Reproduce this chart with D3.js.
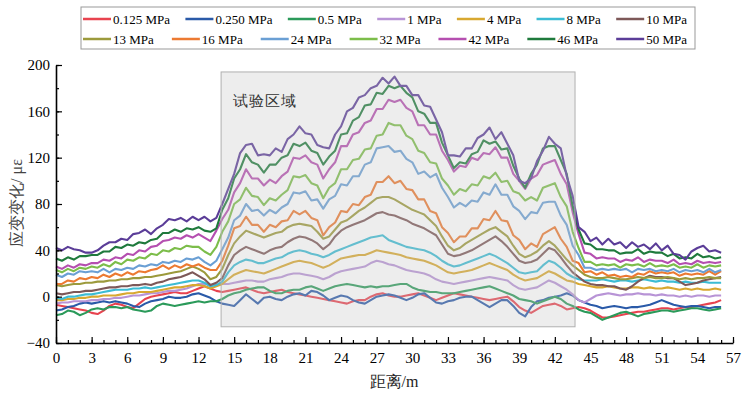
<!DOCTYPE html>
<html>
<head>
<meta charset="utf-8">
<script src="https://cdn.jsdelivr.net/npm/d3@7"></script>
<style>
  body { margin: 0; background: #fff; }
  svg { display: block; }
  text { font-family: "Liberation Serif", "Times New Roman", serif; }
</style>
</head>
<body>
<svg id="chart" width="747" height="395"></svg>
<script>
// Distance along the line (m)
const distance = [
  0,0.5,1,1.5,2,2.5,3,3.5,4,4.5, 5,5.5,6,6.5,7,7.5,8,8.5,9,9.5,
  10,10.5,11,11.5,12,12.5,13,13.5,14,14.5, 15,15.5,16,16.5,17,17.5,18,18.5,19,19.5,
  20,20.5,21,21.5,22,22.5,23,23.5,24,24.5, 25,25.5,26,26.5,27,27.5,28,28.5,29,29.5,
  30,30.5,31,31.5,32,32.5,33,33.5,34,34.5, 35,35.5,36,36.5,37,37.5,38,38.5,39,39.5,
  40,40.5,41,41.5,42,42.5,43,43.5,44,44.5, 45,45.5,46,46.5,47,47.5,48,48.5,49,49.5,
  50,50.5,51,51.5,52,52.5,53,53.5,54,54.5, 55,55.5,56
];

const pressureLabels = ["0.125 MPa", "0.250 MPa", "0.5 MPa", "1 MPa", "4 MPa", "8 MPa", "10 MPa",
                        "13 MPa", "16 MPa", "24 MPa", "32 MPa", "42 MPa", "46 MPa", "50 MPa"];
const lineColors = ["#e8434f", "#2a5aa8", "#2b9a5a", "#b894d6", "#d8a830", "#3cbcd4", "#7d5858",
                    "#9c9a3c", "#ec7a32", "#6a9fd4", "#7cbd4a", "#b54fb0", "#1f7a3c", "#5b3d98"];

// Strain change (με) for each pressure
const strain0125 = [
  -7,-8,-9,-10,-11,-12,-14,-15,-12,-8, -6,-7,-9,-10,-6,-2,0,1,2,3,
  4,3,3,5,7,9,7,5,4,5, 6,7,8,6,4,3,4,5,6,4,
  3,2,1,0,-1,-2,-3,-4,-5,-6, -4,-3,-3,0,2,3,1,0,0,1,
  2,3,1,-1,-3,-1,1,3,2,1, 0,-1,-2,-3,-2,-1,0,-4,-9,-12,
  -14,-11,-8,-7,-6,-8,-11,-10,-9,-10, -12,-15,-18,-18,-17,-16,-15,-14,-13,-13,
  -12,-11,-10,-10,-11,-10,-9,-9,-8,-7, -6,-5,-3
];
const strain0250 = [
  -12,-11,-9,-8,-6,-5,-6,-5,-4,-5, -4,-5,-6,-8,-9,-6,-4,-3,-2,0,
  -1,-1,0,2,3,1,-1,-4,-6,-7, -8,-3,2,-2,-6,-1,0,-2,-3,0,
  2,3,1,5,4,1,-3,-1,1,0, -3,-5,-6,-3,0,1,2,1,-1,-3,
  -1,2,3,-1,-5,-6,-4,-3,-1,0, 0,-3,-6,-9,-6,-3,-3,-8,-14,-17,
  -9,-4,-3,-1,0,1,3,1,-3,-5, -7,-8,-10,-9,-8,-9,-10,-9,-9,-8,
  -7,-5,-3,-5,-7,-8,-9,-8,-8,-9, -10,-9,-9
];
const strain05 = [
  -16,-15,-12,-13,-16,-14,-11,-10,-11,-9, -9,-10,-9,-11,-12,-13,-12,-8,-6,-7,
  -8,-7,-6,-5,-4,-5,-4,-4,-2,1, 3,4,6,7,8,8,5,3,3,5,
  6,6,8,9,7,5,7,9,10,11, 10,9,8,9,8,9,9,10,11,11,
  8,6,5,4,4,3,3,3,4,5, 6,7,8,9,7,5,3,1,-2,-3,
  -4,-6,-4,-2,0,-2,-6,-8,-11,-13, -14,-17,-20,-18,-16,-14,-13,-15,-17,-15,
  -14,-13,-12,-12,-13,-12,-11,-10,-10,-11, -12,-11,-10
];
const strain1 = [
  -6,-5,-5,-4,-4,-4,-3,-3,-2,-2, -1,-1,0,1,1,2,3,3,4,5,
  5,6,7,9,11,11,10,10,11,11, 12,13,14,14,13,13,15,16,17,19,
  20,20,19,18,17,15,17,20,22,23, 24,25,26,29,31,30,28,27,25,23,
  22,21,20,18,15,13,12,11,12,13, 14,15,16,17,16,15,14,10,7,6,
  7,8,11,14,12,9,6,2,-3,-5, -2,1,2,3,2,1,2,2,3,2,
  2,1,2,1,1,0,1,0,1,1, 0,1,1
];
const strain4 = [
  -3,-3,-2,-2,-1,-1,0,0,1,1, 1,2,3,3,4,4,4,5,6,7,
  8,8,9,10,10,9,7,9,11,15, 19,21,23,22,21,20,22,24,26,28,
  30,31,30,29,27,25,27,30,33,34, 35,36,36,38,40,39,38,37,36,34,
  33,32,31,29,27,24,21,20,21,22, 23,25,27,29,27,25,23,19,16,14,
  15,16,19,22,20,17,14,13,11,10, 9,8,8,9,8,7,7,8,8,7,
  8,7,7,8,7,6,7,6,7,6, 6,7,6
];
const strain8 = [
  -1,-2,0,0,1,2,2,3,4,5, 6,6,6,7,7,8,7,8,9,10,
  11,12,13,14,14,12,9,10,13,21, 27,30,32,31,29,29,31,33,34,37,
  39,40,39,37,36,34,36,39,41,43, 45,47,49,51,52,53,49,47,45,43,
  42,41,40,38,35,31,28,26,27,29, 31,33,35,37,35,32,29,25,21,20,
  21,22,27,31,29,25,20,17,15,14, 14,14,15,14,13,14,14,13,14,15,
  14,13,14,13,13,12,13,12,12,13, 12,12,12
];
const strain10 = [
  3,2,3,4,4,5,5,6,7,8, 8,9,9,10,10,11,10,12,13,15,
  16,17,19,21,18,15,10,12,16,27, 36,40,43,41,39,37,40,42,43,47,
  50,52,51,49,46,41,45,52,57,60, 62,64,66,69,72,73,71,70,68,66,
  63,61,59,56,53,45,37,35,36,38, 40,43,46,49,52,48,43,37,31,29,
  30,32,37,42,40,34,27,21,17,13, 11,10,10,9,9,7,6,9,13,16,
  18,17,17,16,16,13,10,11,12,14, 15,16,17
];
const strain13 = [
  10,9,10,11,11,12,12,13,13,14, 14,15,15,16,16,17,17,18,19,20,
  21,22,24,26,24,21,15,17,24,36, 46,52,57,55,53,51,53,55,56,60,
  62,63,62,61,56,50,52,58,64,66, 70,74,77,81,85,86,86,84,81,78,
  75,73,71,66,61,52,44,40,42,46, 49,52,55,58,60,56,52,44,37,34,
  36,39,44,48,44,38,32,27,23,19, 17,16,16,17,16,15,15,16,17,16,
  17,16,16,17,16,15,16,15,16,16, 17,16,16
];
const strain16 = [
  11,11,14,13,16,15,17,16,19,17, 20,18,21,19,22,21,23,24,27,24,
  27,25,28,26,28,25,23,23,31,44, 59,61,69,62,62,56,62,60,65,66,
  74,71,74,68,66,53,60,64,74,73, 80,79,86,88,99,99,104,98,100,93,
  92,84,84,74,72,60,55,47,52,52, 59,59,67,66,74,66,65,53,49,41,
  46,43,54,57,60,50,43,31,29,21, 22,19,21,18,19,17,18,17,20,19,
  22,20,21,20,21,18,20,19,20,19, 22,19,22
];
const strain24 = [
  19,17,20,19,22,21,22,21,24,21, 24,23,25,24,27,26,28,27,30,29,
  31,30,33,32,34,30,27,31,41,51, 66,70,80,74,75,70,75,72,77,80,
  90,89,91,83,84,76,84,87,97,96, 104,104,114,116,128,129,130,125,126,119,
  116,106,108,103,106,94,86,77,81,78, 83,82,90,88,97,88,88,78,74,67,
  73,72,81,82,82,70,62,44,36,25, 25,23,24,23,24,23,24,21,24,23,
  24,22,23,22,24,21,23,22,23,21, 24,21,23
];
const strain32 = [
  23,21,24,22,25,24,26,25,28,26, 30,28,32,31,34,33,37,36,40,39,
  42,41,44,43,43,39,36,43,56,65, 80,84,94,87,86,79,85,83,88,92,
  104,103,105,98,96,85,94,98,110,110, 118,119,127,128,139,140,150,148,148,139,
  136,126,124,116,115,102,96,88,93,91, 97,96,104,102,107,99,100,91,89,83,
  86,83,94,96,98,86,78,56,42,30, 30,27,28,27,28,25,28,27,28,26,
  29,26,27,26,28,25,26,25,28,25, 27,26,27
];
const strain42 = [
  26,24,27,25,28,27,29,29,32,31, 34,33,37,36,40,39,43,44,48,49,
  51,50,53,51,54,51,48,57,67,75, 90,98,110,102,102,96,101,98,104,108,
  120,119,122,116,114,102,110,116,130,130, 140,142,150,152,162,162,170,168,170,163,
  160,148,148,140,140,126,118,108,113,112, 120,118,124,123,129,120,120,106,100,93,
  102,105,114,116,118,106,97,73,54,38, 37,33,34,33,33,30,32,31,34,30,
  32,31,31,29,32,28,29,28,31,29, 30,29,30
];
const strain46 = [
  33,31,34,32,35,35,36,36,39,39, 43,42,45,44,47,46,49,50,55,55,
  58,56,59,58,60,57,56,59,75,85, 102,110,123,116,114,107,114,114,120,122,
  132,130,133,126,124,114,121,126,140,141, 152,155,165,166,176,175,182,180,182,176,
  172,160,158,150,150,133,122,111,116,115, 123,125,135,132,134,127,128,113,102,94,
  106,114,128,130,130,118,106,78,58,46, 45,41,41,40,40,37,38,38,41,37,
  39,38,38,35,37,33,34,33,37,34, 35,33,34
];
const strain50 = [
  42,40,43,41,40,38,38,40,44,47, 47,50,49,54,55,58,54,59,62,67,
  66,68,65,69,66,69,65,68,80,93, 106,124,131,132,122,123,122,128,125,136,
  140,147,141,140,131,129,128,140,147,160, 163,172,174,180,182,189,184,190,182,182,
  174,174,165,164,153,142,122,122,121,128, 128,137,140,146,136,142,132,122,100,98,
  102,117,126,138,132,128,104,87,60,56, 48,51,45,50,45,47,42,47,43,45,
  41,46,40,44,37,36,32,39,42,44, 39,40,38
];

const strainSeries = [strain0125, strain0250, strain05, strain1, strain4, strain8, strain10,
                      strain13, strain16, strain24, strain32, strain42, strain46, strain50];

const xMajorTicks = [0, 3, 6, 9, 12, 15, 18, 21, 24, 27, 30, 33, 36, 39, 42, 45, 48, 51, 54, 57];
const yMajorTicks = [-40, 0, 40, 80, 120, 160, 200];
const testZoneLabel = "试验区域";
const testZoneRange = [13.9, 43.7];   // distance (m)
const testZoneStrain = [-26, 194];    // strain extent (με)

const svg = d3.select("#chart");
svg.append("rect").attr("width", 747).attr("height", 395).attr("fill", "#fff");

const x = d3.scaleLinear().domain([0, 57]).range([56, 733]);
const y = d3.scaleLinear().domain([-40, 200]).range([343, 65]);

// Lines
const line = d3.line()
    .x((d, i) => x(distance[i]))
    .y(d => y(d));

svg.append("g")
  .selectAll("path")
  .data(strainSeries)
  .join("path")
    .attr("d", line)
    .attr("fill", "none")
    .attr("stroke", (d, i) => lineColors[i])
    .attr("stroke-width", 2.1)
    .attr("stroke-linejoin", "round");

// Test zone overlay
svg.append("rect")
    .attr("x", x(testZoneRange[0]))
    .attr("y", y(testZoneStrain[1]))
    .attr("width", x(testZoneRange[1]) - x(testZoneRange[0]))
    .attr("height", y(testZoneStrain[0]) - y(testZoneStrain[1]))
    .attr("fill", "#c4c4c4")
    .attr("fill-opacity", 0.3)
    .attr("stroke", "#b0b0b0")
    .attr("stroke-width", 1);

svg.append("text")
    .attr("x", x(testZoneRange[0]) + 12)
    .attr("y", y(testZoneStrain[1]) + 34)
    .attr("font-family", "Noto Sans CJK SC")
    .attr("font-size", 15)
    .attr("letter-spacing", 1)
    .attr("fill", "#333")
    .text(testZoneLabel);

// X axis: minor ticks every 1 m, labels every 3 m
svg.append("g")
    .attr("transform", `translate(0,${y(-40)})`)
    .call(d3.axisBottom(x).tickValues(d3.range(0, 58, 1)).tickSizeInner(-3).tickSizeOuter(0).tickFormat(""))
    .call(g => g.select(".domain").remove())
    .call(g => g.selectAll("line").attr("stroke", "#000").attr("stroke-width", 1.2));

svg.append("g")
    .attr("transform", `translate(0,${y(-40)})`)
    .call(d3.axisBottom(x).tickValues(xMajorTicks).tickSizeInner(-6).tickSizeOuter(0).tickPadding(9))
    .call(g => g.select(".domain").attr("stroke", "#000").attr("stroke-width", 1.6))
    .call(g => g.selectAll("line").attr("stroke", "#000").attr("stroke-width", 1.2))
    .call(g => g.selectAll("text").attr("font-family", "Liberation Serif").attr("font-size", 15).attr("fill", "#000"));

// Y axis: minor ticks every 20, labels every 40
svg.append("g")
    .attr("transform", `translate(${x(0)},0)`)
    .call(d3.axisLeft(y).tickValues(d3.range(-40, 201, 20)).tickSizeInner(-3).tickSizeOuter(0).tickFormat(""))
    .call(g => g.select(".domain").remove())
    .call(g => g.selectAll("line").attr("stroke", "#000").attr("stroke-width", 1.2));

svg.append("g")
    .attr("transform", `translate(${x(0)},0)`)
    .call(d3.axisLeft(y).tickValues(yMajorTicks).tickSizeInner(-6).tickSizeOuter(0).tickPadding(6))
    .call(g => g.select(".domain").attr("stroke", "#000").attr("stroke-width", 1.6))
    .call(g => g.selectAll("line").attr("stroke", "#000").attr("stroke-width", 1.2))
    .call(g => g.selectAll("text").attr("font-family", "Liberation Serif").attr("font-size", 15).attr("fill", "#000"));

// Axis titles
svg.append("text")
    .attr("x", 394)
    .attr("y", 387)
    .attr("text-anchor", "middle")
    .attr("font-family", "Noto Sans CJK SC")
    .attr("font-size", 16)
    .attr("fill", "#222")
    .text("距离/m");

svg.append("text")
    .attr("transform", "translate(22,203) rotate(-90)")
    .attr("text-anchor", "middle")
    .attr("font-family", "Noto Sans CJK SC")
    .attr("font-size", 16)
    .attr("fill", "#444")
    .text("应变变化/ με");

// Legend
const legendBox = { x: 81, y: 7, w: 614, h: 42 };
svg.append("rect")
    .attr("x", legendBox.x).attr("y", legendBox.y)
    .attr("width", legendBox.w).attr("height", legendBox.h)
    .attr("fill", "#fff")
    .attr("stroke", "#999")
    .attr("stroke-width", 1);

const legendRows = [pressureLabels.slice(0, 7), pressureLabels.slice(7)];
legendRows.forEach((rowLabels, r) => {
  const rowY = legendBox.y + 12 + r * 20;
  const g = svg.append("g");
  const items = rowLabels.map((label, j) => {
    const idx = r * 7 + j;
    const item = g.append("g");
    item.append("line")
        .attr("x1", 0).attr("x2", 28)
        .attr("y1", rowY).attr("y2", rowY)
        .attr("stroke", lineColors[idx])
        .attr("stroke-width", 2.5);
    const t = item.append("text")
        .attr("x", 30).attr("y", rowY + 4.5)
        .attr("font-size", 13)
        .attr("fill", "#000")
        .text(label);
    return { item, width: 30 + t.node().getComputedTextLength() };
  });
  const total = d3.sum(items, d => d.width);
  const start = legendBox.x + 2;
  const end = legendBox.x + legendBox.w - 8;
  const gap = (end - start - total) / (items.length - 1);
  let cx = start;
  items.forEach(d => {
    d.item.attr("transform", `translate(${cx},0)`);
    cx += d.width + gap;
  });
});
</script>
</body>
</html>
